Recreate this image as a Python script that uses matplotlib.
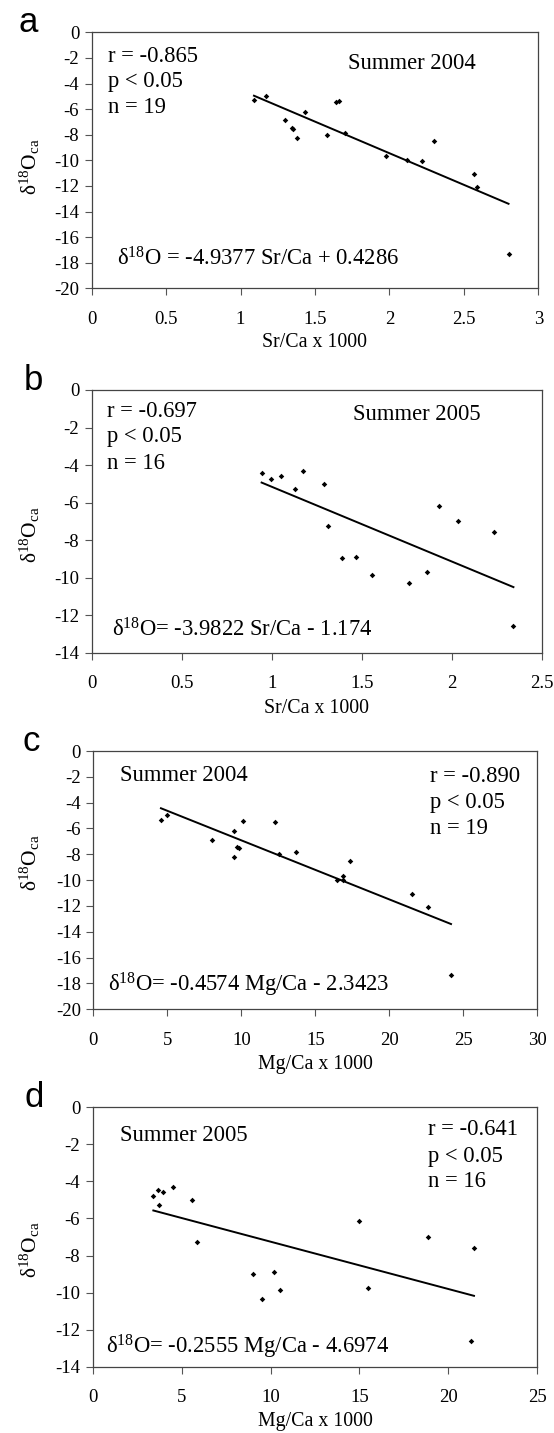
import matplotlib
matplotlib.use('Agg')
import matplotlib.pyplot as plt
import numpy as np

plt.rcParams['font.family'] = ['Liberation Serif', 'DejaVu Serif']
plt.rcParams['mathtext.fontset'] = 'custom'
plt.rcParams['mathtext.rm'] = 'Liberation Serif'
plt.rcParams['mathtext.it'] = 'Liberation Serif:italic'
plt.rcParams['axes.unicode_minus'] = False

# panel a: Sr/Ca vs d18O, summer 2004
sr04 = [1.09, 1.17, 1.30, 1.345, 1.35, 1.38, 1.43, 1.58, 1.64, 1.66, 1.70,
        1.98, 2.12, 2.22, 2.30, 2.57, 2.59, 2.80]
d18_sr04 = [-5.31, -4.95, -6.88, -7.45, -7.53, -8.23, -6.20, -7.99, -5.47, -5.39, -7.84,
            -9.66, -9.97, -10.03, -8.52, -11.04, -12.08, -17.34]

# panel b: Sr/Ca vs d18O, summer 2005
sr05 = [0.944, 0.998, 1.054, 1.131, 1.174, 1.289, 1.315, 1.391, 1.470, 1.557,
        1.761, 1.861, 1.931, 2.035, 2.233, 2.343]
d18_sr05 = [-4.44, -4.76, -4.56, -5.26, -4.30, -4.99, -7.23, -8.97, -8.88, -9.86,
            -10.28, -9.72, -6.16, -6.98, -7.57, -12.58]

# panel c: Mg/Ca vs d18O, summer 2004
mg04 = [4.57, 4.95, 8.00, 9.48, 9.48, 9.73, 9.82, 10.11, 12.27, 12.55, 13.69,
        16.49, 16.85, 16.85, 17.32, 21.55, 22.61, 24.17]
d18_mg04 = [-5.32, -4.96, -6.89, -6.22, -8.23, -7.46, -7.54, -5.42, -5.52, -8.00, -7.82,
            -10.01, -9.65, -10.01, -8.52, -11.05, -12.08, -17.32]

# panel d: Mg/Ca vs d18O, summer 2005
mg05 = [3.41, 3.67, 3.94, 3.75, 4.54, 5.60, 5.85, 9.01, 10.21, 9.52, 10.51,
        14.99, 15.46, 18.83, 21.44, 21.25]
d18_mg05 = [-4.77, -4.44, -4.55, -5.27, -4.28, -5.00, -7.25, -9.00, -8.91, -10.33, -9.88,
            -6.15, -9.75, -7.00, -7.58, -12.63]

# fitted lines (slope, intercept)
fits = [(-4.9377, 0.4286), (-3.9822, -1.174), (-0.4574, -2.3423), (-0.2555, -4.6974)]

W, H = 554, 1433
fig = plt.figure(figsize=(W / 100, H / 100), dpi=100)

def add_ax(left, top, right, bottom):
    return fig.add_axes([left / W, 1 - bottom / H, (right - left) / W, (bottom - top) / H])

panels = [
    dict(box=(91.7, 32.3, 538.3, 288.3), x=sr04, y=d18_sr04, xlim=(0, 3), xt=np.arange(0, 3.01, 0.5),
         xtl=['0', '0.5', '1', '1.5', '2', '2.5', '3'], ylim=(-20, 0), xlabel='Sr/Ca x 1000',
         ylab_y=0.474, letter='a', letter_x=18, season='Summer 2004', season_xy=(0.574, 0.88),
         stats=['r = -0.865', 'p < 0.05', 'n = 19'], stats_x=0.037, stats_y=[0.907, 0.807, 0.707],
         eq='δ$^{18}$O = -4.9377 Sr/Ca + 0.4286', eq_xy=(0.057, 0.114)),
    dict(box=(91.7, 390, 541.7, 652.7), x=sr05, y=d18_sr05, xlim=(0, 2.5), xt=np.arange(0, 2.51, 0.5),
         xtl=['0', '0.5', '1', '1.5', '2', '2.5'], ylim=(-14, 0), xlabel='Sr/Ca x 1000',
         ylab_y=0.448, letter='b', letter_x=24, season='Summer 2005', season_xy=(0.581, 0.905),
         stats=['r = -0.697', 'p < 0.05', 'n = 16'], stats_x=0.033, stats_y=[0.917, 0.822, 0.721],
         eq='δ$^{18}$O= -3.9822 Sr/Ca - 1.174', eq_xy=(0.044, 0.086)),
    dict(box=(93.3, 751, 537.3, 1009.3), x=mg04, y=d18_mg04, xlim=(0, 30), xt=np.arange(0, 31, 5),
         xtl=['0', '5', '10', '15', '20', '25', '30'], ylim=(-20, 0), xlabel='Mg/Ca x 1000',
         ylab_y=0.566, letter='c', letter_x=22, season='Summer 2004', season_xy=(0.06, 0.907),
         stats=['r = -0.890', 'p < 0.05', 'n = 19'], stats_x=0.758, stats_y=[0.901, 0.80, 0.701],
         eq='δ$^{18}$O= -0.4574 Mg/Ca - 2.3423', eq_xy=(0.034, 0.094)),
    dict(box=(92.7, 1107.3, 537.3, 1366.7), x=mg05, y=d18_mg05, xlim=(0, 25), xt=np.arange(0, 26, 5),
         xtl=['0', '5', '10', '15', '20', '25'], ylim=(-14, 0), xlabel='Mg/Ca x 1000',
         ylab_y=0.45, letter='d', letter_x=24, season='Summer 2005', season_xy=(0.061, 0.893),
         stats=['r = -0.641', 'p < 0.05', 'n = 16'], stats_x=0.755, stats_y=[0.913, 0.812, 0.713],
         eq='δ$^{18}$O= -0.2555 Mg/Ca - 4.6974', eq_xy=(0.031, 0.077)),
]

for p, (m, b) in zip(panels, fits):
    left, top, right, bottom = p['box']
    ax = add_ax(left, top, right, bottom)
    x = np.array(p['x'])
    ax.scatter(x, p['y'], marker='D', s=8, color='black', linewidths=0, zorder=3)
    xx = np.array([x.min(), x.max()])
    ax.plot(xx, m * xx + b, color='black', lw=1.4)

    ax.set_xlim(*p['xlim'])
    ax.set_ylim(*p['ylim'])
    ax.set_xticks(p['xt'])
    ax.set_xticklabels(p['xtl'])
    ax.set_yticks(np.arange(p['ylim'][0], 0.1, 2))
    ax.set_yticklabels([str(int(v)) for v in np.arange(p['ylim'][0], 0.1, 2)])
    ax.tick_params(axis='both', direction='out', length=5, width=0.8, color='#555555', labelsize=13.5)
    ax.tick_params(axis='x', pad=11)
    ax.tick_params(axis='y', pad=4)
    for s in ax.spines.values():
        s.set_color('#444444')
        s.set_linewidth(0.9)

    ax.set_xlabel(p['xlabel'], fontsize=14.3)
    ax.xaxis.set_label_coords(0.5, -0.175)
    ax.set_ylabel('δ$^{18}$O$_{\\mathrm{ca}}$', fontsize=15.5, va='center')
    ax.yaxis.set_label_coords((30 - left) / (right - left), p['ylab_y'])

    ax.text(p['season_xy'][0], p['season_xy'][1], p['season'], transform=ax.transAxes,
            fontsize=16.3, va='center', ha='left')
    for txt, yy in zip(p['stats'], p['stats_y']):
        ax.text(p['stats_x'], yy, txt, transform=ax.transAxes, fontsize=16.3, va='center', ha='left')
    ax.text(p['eq_xy'][0], p['eq_xy'][1], p['eq'], transform=ax.transAxes,
            fontsize=16.3, va='center', ha='left')

    fig.text(p['letter_x'] / W, 1 - top / H, p['letter'], fontsize=25, family='Liberation Sans',
             va='baseline', ha='left')

fig.savefig('out.png', dpi=100)
